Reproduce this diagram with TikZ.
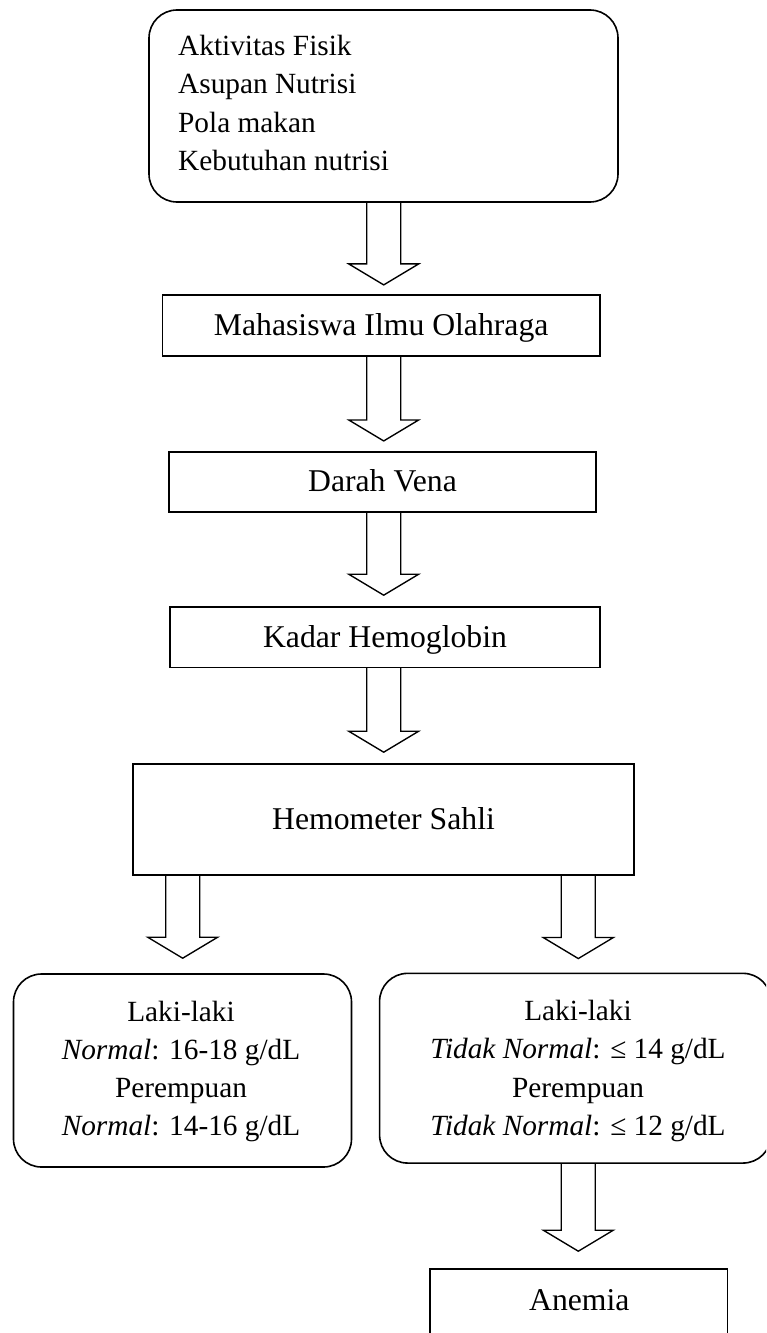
\documentclass[tikz,border=0pt]{standalone}
\usepackage{fontspec}
\setmainfont{Liberation Serif}
\usetikzlibrary{calc}
\newcommand\fbig{\fontsize{31.7}{38}\selectfont}
\newcommand\fsmall{\fontsize{29.3}{37.7}\selectfont}
\tikzset{
  boxshape/.style={draw, line width=1.6pt, rectangle, inner sep=0pt, text height=20pt, text depth=0pt, font=\fbig},
  roundbox/.style={boxshape, rounded corners=28pt},
  linec/.style={font=\fsmall, inner sep=0pt, anchor=base},
  linel/.style={font=\fsmall, inner sep=0pt, anchor=base west},
  blockarr/.style={draw, line width=1.35pt, line join=miter},
}
\newcommand\blockarrow[4]{%
  \coordinate (s) at (#1.south -| #3);
  \coordinate (t) at ($(#2.north -| #3)+(0,-#4)$);
  \draw[blockarr] ($(s)+(-17,0)$) -- ($(t)+(-17,-21)$) -- ($(t)+(-35,-21)$) -- (t)
    -- ($(t)+(35,-21)$) -- ($(t)+(17,-21)$) -- ($(s)+(17,0)$);
}
\begin{document}
\begin{tikzpicture}[x=1pt,y=-1pt]
\clip (0,0) rectangle (766,1333);
\useasboundingbox (0,0) rectangle (766,1333);
\fill[white] (0,0) rectangle (766,1333);

% boxes
\node[roundbox, minimum width=469pt, minimum height=192pt] (top) at (383.5,106) {};
\node[linel] (t1) at (178,55) {Aktivitas Fisik};
\node[linel] (t2) at (178,93.5) {Asupan Nutrisi};
\node[linel] (t3) at (178,132) {Pola makan};
\node[linel] (t4) at (178,170.5) {Kebutuhan nutrisi};

\node[boxshape, minimum width=437.7pt, minimum height=61pt] (mah) at (381.2,325.2) {Mahasiswa Ilmu Olahraga};
\node[boxshape, minimum width=427pt, minimum height=60.3pt] (darah) at (382.5,481.9) {Darah Vena};
\node[boxshape, minimum width=430pt, minimum height=60.6pt] (kadar) at (385,637) {Kadar Hemoglobin};
\node[boxshape, minimum width=501pt, minimum height=111pt] (hemo) at (383.5,819.5) {Hemometer Sahli};

\node[roundbox, minimum width=338pt, minimum height=193pt] (left) at (182.5,1070.5) {};
\node[linec] (l1) at (181,1021.5) {Laki-laki};
\node[linec] (l2) at (181,1059) {\textit{Normal}: 16-18 g/dL};
\node[linec] (l3) at (181,1097) {Perempuan};
\node[linec] (l4) at (181,1135) {\textit{Normal}: 14-16 g/dL};

\node[roundbox, minimum width=391.4pt, minimum height=189.7pt] (right) at (575.3,1068.2) {};
\node[linec] (r1) at (578,1020) {Laki-laki};
\node[linec] (r2) at (578,1058) {\textit{Tidak Normal}: ≤ 14 g/dL};
\node[linec] (r3) at (578,1097) {Perempuan};
\node[linec] (r4) at (578,1135) {\textit{Tidak Normal}: ≤ 12 g/dL};

\node[boxshape, minimum width=297.3pt, minimum height=76pt] (anemia) at (578.7,1307) {};
\node[font=\fbig, inner sep=0pt, anchor=base] (anemiatext) at (579.3,1310) {Anemia};

% arrows
\coordinate (xc) at (383.7,0);
\coordinate (xl) at (182.7,0);
\coordinate (xr) at (578.3,0);
\blockarrow{top}{mah}{xc}{9}
\blockarrow{mah}{darah}{xc}{10}
\blockarrow{darah}{kadar}{xc}{10.7}
\blockarrow{kadar}{hemo}{xc}{11}
\blockarrow{hemo}{left}{xl}{15}
\blockarrow{hemo}{right}{xr}{14}
\blockarrow{right}{anemia}{xr}{17}
\end{tikzpicture}
\end{document}
